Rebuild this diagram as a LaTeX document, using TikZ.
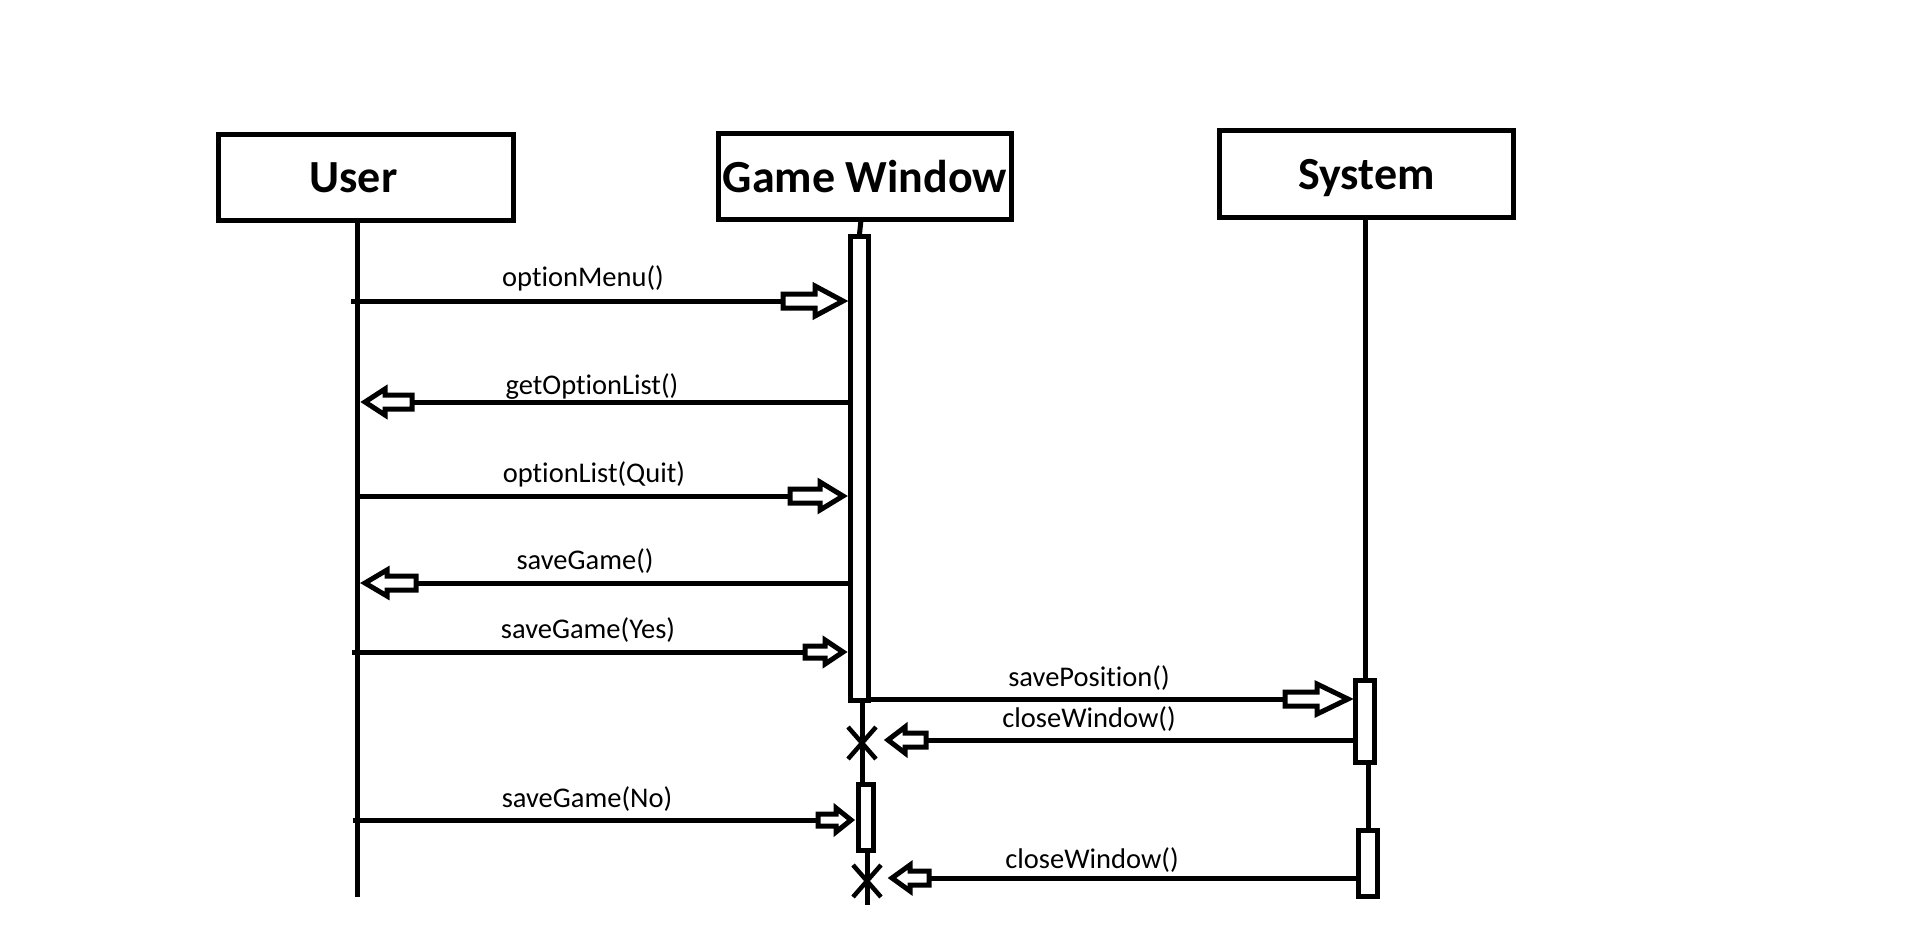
\documentclass[tikz,border=0pt]{standalone}
\usepackage{fontspec}
\setmainfont{Carlito}[RawFeature={-liga;-clig;-calt;-dlig}]
\usetikzlibrary{calc}
\newcommand\seqmsg[7]{% #1 from, #2 touch point, #3 dir, #4 base len, #5 tail len, #6 tri half, #7 rect half
  \draw[msgline] (#1) -- ($(#2)+({-(#3)*(#5)},0)$);
  \draw[msghead] ($(#2)+({-(#3)*5},0)$) -- ($(#2)+({-(#3)*(#4)},{-(#6)})$)
    -- ($(#2)+({-(#3)*(#4)},{-(#7)})$) -- ($(#2)+({-(#3)*(#5)},{-(#7)})$)
    -- ($(#2)+({-(#3)*(#5)},{#7})$) -- ($(#2)+({-(#3)*(#4)},{#7})$)
    -- ($(#2)+({-(#3)*(#4)},{#6})$) -- cycle;
}
\newcommand\destroymark[1]{%
  \draw[xmark] ($(#1)+(-14,-16)$) -- ($(#1)+(14,16)$);
  \draw[xmark] ($(#1)+(14,-16)$) -- ($(#1)+(-14,16)$);
}
\begin{document}
\begin{tikzpicture}[x=1pt,y=-1pt,
  obj/.style={draw,line width=5pt,rectangle,inner sep=0pt,
    font=\fontsize{46}{50}\selectfont\bfseries,text depth=0pt},
  actbar/.style={draw,line width=5pt,rectangle,inner sep=0pt,fill=white},
  life/.style={line width=5pt},
  msgline/.style={line width=5pt},
  msghead/.style={line width=5pt,line join=miter},
  msglabel/.style={font=\fontsize{28.5}{32}\selectfont,anchor=base,inner sep=0pt},
  xmark/.style={line width=4.5pt}]
\fill[white] (0,0) rectangle (1914,935);
\useasboundingbox (0,0) rectangle (1914,935);

% objects
\node[obj,minimum width=295pt,minimum height=86pt] (user) at (366,177.5) {\hspace*{-25pt}User};
\node[obj,minimum width=293pt,minimum height=86pt] (gw) at (865,176.5) {Game Window};
\node[obj,minimum width=294pt,minimum height=87pt] (sys) at (1366.5,174) {System};

% activation bars
\node[actbar,minimum width=18pt,minimum height=464pt] (gwA) at (859.5,468.5) {};
\node[actbar,minimum width=15pt,minimum height=66pt] (gwB) at (866,817.5) {};
\node[actbar,minimum width=19pt,minimum height=82pt] (sysA) at (1365,721.5) {};
\node[actbar,minimum width=19pt,minimum height=66pt] (sysB) at (1368,863.5) {};

% lifeline coordinates
\coordinate (userEnd) at (357,897);
\coordinate (gwTick) at (861,220);
\coordinate (gwX1) at (862,743);
\coordinate (gwX2) at (867,881);
\coordinate (gwEnd) at (867,905);

% lifelines
\draw[life] (userEnd |- user.south) -- (userEnd);
\draw[life] (gwTick) -- (gwA.north);
\draw[life] (gwA.south -| gwX1) -- (gwX1) -- (gwX1 |- gwB.north);
\draw[life] (gwB.south -| gwEnd) -- (gwEnd);
\draw[life] (sys.south -| sysA.north) -- (sysA.north);
\draw[life] (sysA.south -| sysB.north) -- (sysB.north);

% message end points
\coordinate (m1a) at (351,301);   \coordinate (m1b) at (848,301);
\coordinate (m2a) at (850,402);   \coordinate (m2b) at (360,402);
\coordinate (m3a) at (357,496);   \coordinate (m3b) at (848,496);
\coordinate (m4a) at (850,583);   \coordinate (m4b) at (360,583);
\coordinate (m5a) at (352,652);   \coordinate (m5b) at (848,652);
\coordinate (m6a) at (869,699);   \coordinate (m6b) at (1353,699);
\coordinate (m7a) at (1355,740);  \coordinate (m7b) at (883,740);
\coordinate (m8a) at (353,820);   \coordinate (m8b) at (856,820);
\coordinate (m9a) at (1358,878);  \coordinate (m9b) at (887,878);

% messages
\seqmsg{m1a}{m1b}{1}{33}{65}{15}{7}
\seqmsg{m2a}{m2b}{-1}{25}{52}{13}{7}
\seqmsg{m3a}{m3b}{1}{28}{58}{14}{7}
\seqmsg{m4a}{m4b}{-1}{27}{56}{13}{7}
\seqmsg{m5a}{m5b}{1}{23}{43}{12}{6}
\seqmsg{m6a}{m6b}{1}{36}{68}{15}{7}
\seqmsg{m7a}{m7b}{-1}{22}{43}{13}{7}
\seqmsg{m8a}{m8b}{1}{20}{38}{12}{6}
\seqmsg{m9a}{m9b}{-1}{23}{42}{13}{7}

% labels
\node[msglabel] (l1) at (583,286) {optionMenu()};
\node[msglabel] (l2) at (592,394) {getOptionList()};
\node[msglabel] (l3) at (594,482) {optionList(Quit)};
\node[msglabel] (l4) at (585,569) {saveGame()};
\node[msglabel] (l5) at (588,638) {saveGame(Yes)};
\node[msglabel] (l6) at (1089,686) {savePosition()};
\node[msglabel] (l7) at (1089,727) {closeWindow()};
\node[msglabel] (l8) at (587,807) {saveGame(No)};
\node[msglabel] (l9) at (1092,868) {closeWindow()};

% destruction marks
\destroymark{gwX1}
\destroymark{gwX2}
\end{tikzpicture}
\end{document}
